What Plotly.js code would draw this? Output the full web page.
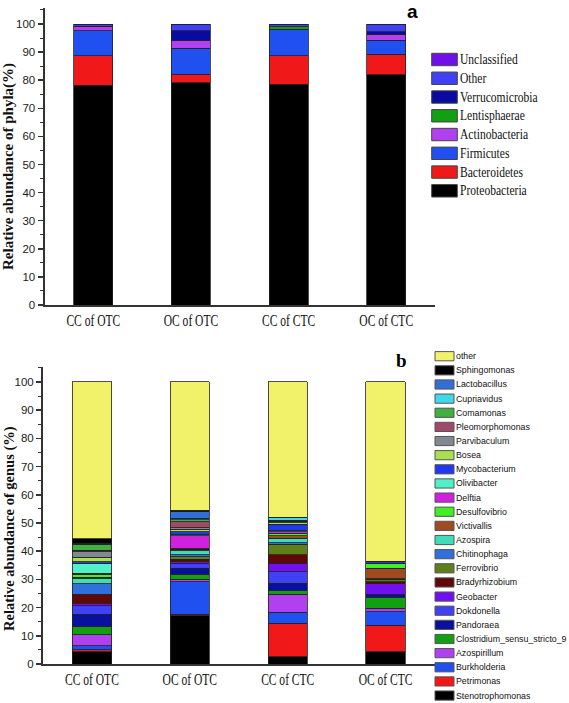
<!DOCTYPE html>
<html>
<head>
<meta charset="utf-8">
<script src="https://cdn.plot.ly/plotly-3.0.1.min.js"></script>
<style>
  html, body { margin: 0; padding: 0; background: #fff; }
  #chart { width: 569px; height: 703px; }
</style>
</head>
<body>
<div id="chart"></div>
<script>
// ---------- DATA ----------
const samples = ['CC of OTC', 'OC of OTC', 'CC of CTC', 'OC of CTC'];

// Panel a: phyla (stack order bottom -> top)
const phylaNames = ['Proteobacteria', 'Bacteroidetes', 'Firmicutes', 'Actinobacteria',
                    'Lentisphaerae', 'Verrucomicrobia', 'Other', 'Unclassified'];
const proteobacteria  = [78.3, 79.1, 78.5, 81.9];
const bacteroidetes   = [10.4, 3.0, 10.2, 7.4];
const firmicutes      = [8.9, 9.2, 9.2, 5.0];
const actinobacteria  = [1.7, 3.0, 0.3, 2.1];
const lentisphaerae   = [0.0, 0.0, 0.9, 0.0];
const verrucomicrobia = [0.0, 3.3, 0.0, 0.9];
const otherPhyla      = [0.7, 2.4, 0.8, 2.6];
const unclassified    = [0.0, 0.0, 0.1, 0.1];
const phylaValues = [proteobacteria, bacteroidetes, firmicutes, actinobacteria,
                     lentisphaerae, verrucomicrobia, otherPhyla, unclassified];
const phylaColors = ['#000000', '#f01818', '#2050f0', '#b040f0',
                     '#12a012', '#0a0aa0', '#4040f4', '#7010e8'];

// Panel b: genera (stack order bottom -> top)
const genusNames = ['Stenotrophomonas', 'Petrimonas', 'Burkholderia', 'Azospirillum',
  'Clostridium_sensu_stricto_9', 'Pandoraea', 'Dokdonella', 'Geobacter', 'Bradyrhizobium',
  'Ferrovibrio', 'Chitinophaga', 'Azospira', 'Victivallis', 'Desulfovibrio', 'Delftia',
  'Olivibacter', 'Mycobacterium', 'Bosea', 'Parvibaculum', 'Pleomorphomonas', 'Comamonas',
  'Cupriavidus', 'Lactobacillus', 'Sphingomonas', 'other'];
const stenotrophomonas = [4.4, 17.1, 2.6, 4.4];
const petrimonas       = [0.6, 0.6, 11.8, 9.4];
const burkholderia     = [1.4, 11.5, 3.9, 4.8];
const azospirillum     = [3.9, 0.9, 6.4, 1.1];
const clostridium9     = [2.9, 1.8, 1.3, 3.9];
const pandoraea        = [4.4, 2.0, 2.6, 0.9];
const dokdonella       = [3.1, 1.8, 4.1, 0.2];
const geobacter        = [0.8, 0.6, 3.0, 3.7];
const bradyrhizobium   = [3.0, 0.8, 3.0, 0.8];
const ferrovibrio      = [0.3, 1.0, 3.7, 0.8];
const chitinophaga     = [3.6, 0.6, 0.6, 0.1];
const azospira         = [1.9, 1.5, 1.6, 0.1];
const victivallis      = [0.4, 0.5, 0.8, 3.7];
const desulfovibrio    = [1.2, 0.3, 0.9, 1.6];
const delftia          = [0.3, 4.5, 0.6, 0.1];
const olivibacter      = [3.5, 0.5, 0.6, 0.1];
const mycobacterium    = [0.5, 0.9, 2.0, 0.6];
const bosea            = [1.6, 0.9, 0.6, 0.0];
const parvibaculum     = [2.0, 0.5, 0.3, 0.0];
const pleomorphomonas  = [0.6, 2.2, 0.3, 0.0];
const comamonas        = [2.0, 0.6, 0.3, 0.0];
const cupriavidus      = [0.2, 0.6, 0.8, 0.0];
const lactobacillus    = [0.2, 2.3, 0.1, 0.0];
const sphingomonas     = [1.6, 0.5, 0.1, 0.1];
const otherGenus       = [55.6, 45.5, 48.0, 63.6];
const genusValues = [stenotrophomonas, petrimonas, burkholderia, azospirillum, clostridium9,
  pandoraea, dokdonella, geobacter, bradyrhizobium, ferrovibrio, chitinophaga, azospira,
  victivallis, desulfovibrio, delftia, olivibacter, mycobacterium, bosea, parvibaculum,
  pleomorphomonas, comamonas, cupriavidus, lactobacillus, sphingomonas, otherGenus];
const genusColors = ['#000000', '#f01818', '#2050f0', '#b040f0', '#12a012', '#0810a0',
  '#4040f4', '#7010f0', '#600808', '#5f7f1c', '#3070dc', '#40dcb8', '#a04a22', '#40f020',
  '#d020e0', '#50f0c8', '#2038f0', '#a8e050', '#808890', '#a04a6a', '#40b040', '#40d8ec',
  '#2f6fd6', '#000000', '#f2f26a'];

const yTicks = [0, 10, 20, 30, 40, 50, 60, 70, 80, 90, 100];

// ---------- FIGURE ----------
const W = 569, H = 703;
const px = v => v / W;          // pixel -> paper x
const py = v => 1 - v / H;      // pixel -> paper y

const traces = [];
phylaNames.forEach((n, i) => traces.push({
  type: 'bar', name: n, x: samples, y: phylaValues[i], xaxis: 'x', yaxis: 'y',
  width: 0.4, showlegend: false,
  marker: { color: phylaColors[i], line: { color: '#222', width: 0.8 } }
}));
genusNames.forEach((n, i) => traces.push({
  type: 'bar', name: n, x: samples, y: genusValues[i], xaxis: 'x2', yaxis: 'y2',
  width: 0.4, showlegend: false,
  marker: { color: genusColors[i], line: { color: '#222', width: 0.8 } }
}));

const yAxisBase = {
  showline: true, linecolor: '#333', linewidth: 2, showgrid: false, zeroline: false,
  ticks: 'outside', ticklen: 5, tickwidth: 1.5, tickcolor: '#333',
  tickvals: yTicks, ticktext: yTicks.map(String),
  tickfont: { family: 'Liberation Sans, Arial, sans-serif', size: 11.5, color: '#222' },
  minor: { dtick: 5, ticks: 'outside', ticklen: 3, tickwidth: 1, tickcolor: '#333' },
  fixedrange: true
};
const xAxisBase = {
  type: 'category', range: [-0.5, 3.5], showline: true, linecolor: '#333', linewidth: 2,
  showgrid: false, zeroline: false, ticks: '', ticklabelstandoff: 0,
  tickfont: { family: 'Liberation Serif, Times New Roman, serif', size: 16, color: '#111' },
  fixedrange: true
};

const shapes = [];
const annotations = [];
const squeeze = [];   // horizontal condensing factor per annotation (null = none)
function addAnn(a, f) { annotations.push(a); squeeze.push(f || null); }

// axis titles
addAnn({ xref: 'paper', yref: 'paper', x: px(9), y: py(167), textangle: -90,
  xanchor: 'center', yanchor: 'middle', showarrow: false,
  text: '<b>Relative abundance of phyla(%)</b>',
  font: { family: 'Liberation Serif, Times New Roman, serif', size: 15, color: '#111' } });
addAnn({ xref: 'paper', yref: 'paper', x: px(9), y: py(529), textangle: -90,
  xanchor: 'center', yanchor: 'middle', showarrow: false,
  text: '<b>Relative abundance of genus (%)</b>',
  font: { family: 'Liberation Serif, Times New Roman, serif', size: 14.5, color: '#111' } });
// panel letters
addAnn({ xref: 'paper', yref: 'paper', x: px(412), y: py(0), xanchor: 'center', yanchor: 'top',
  showarrow: false, text: '<b>a</b>', borderpad: 0,
  font: { family: 'Liberation Sans, Arial, sans-serif', size: 19, color: '#000' } });
addAnn({ xref: 'paper', yref: 'paper', x: px(401), y: py(360), xanchor: 'center', yanchor: 'middle',
  showarrow: false, text: '<b>b</b>',
  font: { family: 'Liberation Serif, Times New Roman, serif', size: 19, color: '#000' } });

// legend a (top -> bottom is reverse of stack order)
const phylaLegend = phylaNames.map((n, i) => i).reverse();
phylaLegend.forEach((idx, k) => {
  const cy = 59.5 + k * 18.76;
  shapes.push({ type: 'rect', xref: 'paper', yref: 'paper',
    x0: px(431.7), x1: px(457.3), y0: py(cy - 6.2), y1: py(cy + 6.2),
    fillcolor: phylaColors[idx], line: { color: '#444', width: 1 } });
  addAnn({ xref: 'paper', yref: 'paper', x: px(459), y: py(cy), xanchor: 'left', yanchor: 'middle',
    align: 'left', showarrow: false, text: phylaNames[idx], borderpad: 0,
    font: { family: 'Liberation Serif, Times New Roman, serif', size: 13.6, color: '#111' } }, 0.85);
});

// legend b
const genusLegend = genusNames.map((n, i) => i).reverse();
genusLegend.forEach((idx, k) => {
  const cy = 356.2 + k * 14.14;
  shapes.push({ type: 'rect', xref: 'paper', yref: 'paper',
    x0: px(435), x1: px(454), y0: py(cy - 4.6), y1: py(cy + 4.6),
    fillcolor: genusColors[idx], line: { color: '#555', width: 1 } });
  addAnn({ xref: 'paper', yref: 'paper', x: px(455), y: py(cy), xanchor: 'left', yanchor: 'middle',
    align: 'left', showarrow: false, text: genusNames[idx], borderpad: 0,
    font: { family: 'Liberation Sans, Arial, sans-serif', size: 8.8, color: '#111' } });
});

const layout = {
  width: W, height: H, margin: { l: 0, r: 0, t: 0, b: 0 },
  paper_bgcolor: '#fff', plot_bgcolor: '#fff', barmode: 'stack', showlegend: false,
  xaxis: Object.assign({}, xAxisBase, { domain: [px(44.5), px(435)], anchor: 'y' }),
  yaxis: Object.assign({}, yAxisBase, { domain: [py(305), py(8.3)], range: [0, 105.6], anchor: 'x' }),
  xaxis2: Object.assign({}, xAxisBase, { domain: [px(43), px(434.5)], anchor: 'y2' }),
  yaxis2: Object.assign({}, yAxisBase, { domain: [py(664), py(367)], range: [0, 105.3], anchor: 'x2' }),
  shapes: shapes, annotations: annotations
};

const gd = document.getElementById('chart');
Plotly.newPlot(gd, traces, layout, { displayModeBar: false, staticPlot: true }).then(() => {
  // condense text horizontally like the original figure
  const condense = (el, f) => {
    const w = el.getComputedTextLength();
    if (w > 0) { el.setAttribute('textLength', (w * f).toFixed(2)); el.setAttribute('lengthAdjust', 'spacingAndGlyphs'); }
  };
  gd.querySelectorAll('.xtick text, .x2tick text').forEach(t => condense(t, 0.72));
  const anns = gd.querySelectorAll('g.annotation');
  anns.forEach((g, i) => {
    const di = g.getAttribute('data-index');
    const k = di !== null ? +di : i;
    if (squeeze[k]) { const t = g.querySelector('text.annotation-text'); if (t) condense(t, squeeze[k]); }
  });
});
</script>
</body>
</html>
